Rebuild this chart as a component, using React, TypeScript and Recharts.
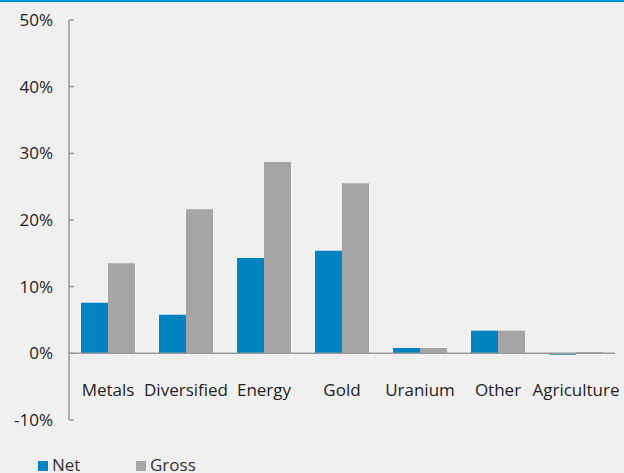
import React from "react";
import { BarChart, Bar, XAxis, YAxis, ReferenceLine } from "recharts";

const categories = ["Metals", "Diversified", "Energy", "Gold", "Uranium", "Other", "Agriculture"];
const netValues = [7.6, 5.8, 14.3, 15.4, 0.8, 3.4, -0.2];
const grossValues = [13.5, 21.6, 28.7, 25.5, 0.8, 3.4, 0.2];
const yTicks = [-10, 0, 10, 20, 30, 40, 50];
const seriesNames = ["Net", "Gross"];

const data = categories.map((c, i) => ({ name: c, Net: netValues[i], Gross: grossValues[i] }));

const FONT = "'Open Sans', sans-serif";
const BLUE = "#0083be";
const GRAY = "#a5a5a5";
const AXIS = "#9a9a9a";
const colors = [BLUE, GRAY];

const XTick = (props: any) => {
  const { x, y, payload } = props;
  return (
    <text x={x} y={y - 32} textAnchor="middle" fill="#1e1e1e" fontSize={17} fontFamily={FONT}>
      {payload.value}
    </text>
  );
};

export default function App() {
  return (
    <div style={{ position: "absolute", left: 0, top: 0, width: 624, height: 473, background: "#f0f0f0", overflow: "hidden" }}>
      <div style={{ position: "absolute", left: 0, top: 0, width: 624, height: 2, background: "#0096d6" }} />
      <BarChart
        width={624}
        height={473}
        data={data}
        margin={{ top: 20, right: 9, bottom: 0, left: 0 }}
        barGap={0}
        barSize={27}
      >
        <XAxis
          dataKey="name"
          axisLine={false}
          tickLine={false}
          interval={0}
          height={53}
          tick={<XTick />}
        />
        <YAxis
          width={69}
          domain={[-10, 50]}
          ticks={yTicks}
          interval={0}
          tickFormatter={(v: number) => `${v}%`}
          axisLine={{ stroke: AXIS, strokeWidth: 1.5 }}
          tickLine={{ stroke: AXIS, strokeWidth: 1.5 }}
          tickSize={-5}
          tickMargin={21}
          tick={{ fill: "#1e1e1e", fontSize: 17, fontFamily: FONT }}
        />
        <Bar dataKey="Net" fill={BLUE} isAnimationActive={false} />
        <Bar dataKey="Gross" fill={GRAY} isAnimationActive={false} />
        <ReferenceLine y={0} stroke={AXIS} strokeWidth={1.5} />
      </BarChart>
      <div style={{ position: "absolute", left: 38, top: 453, display: "flex", fontFamily: FONT, fontSize: 17, color: "#333" }}>
        {seriesNames.map((n, i) => (
          <div key={n} style={{ width: 98, display: "flex", alignItems: "center" }}>
            <span style={{ display: "inline-block", width: 10, height: 10, background: colors[i], marginRight: 4, marginTop: 3 }} />
            <span>{n}</span>
          </div>
        ))}
      </div>
    </div>
  );
}
